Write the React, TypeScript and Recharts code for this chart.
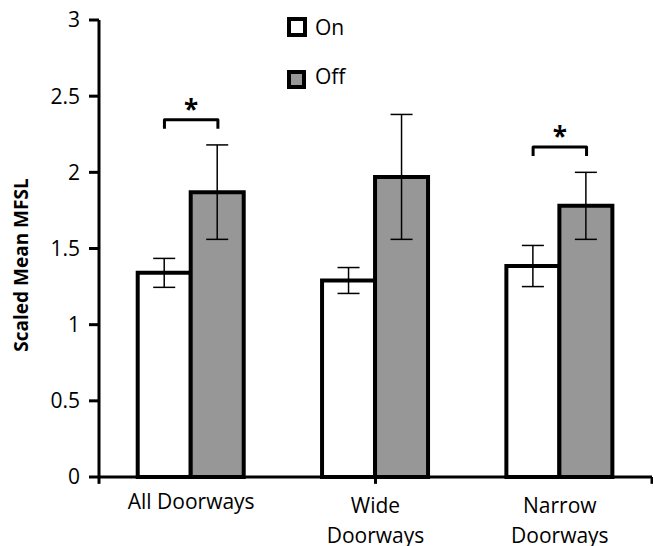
import { Bar, BarChart, ErrorBar, ReferenceDot, ReferenceLine, XAxis, YAxis } from "recharts";

const categories = ["All Doorways", "Wide Doorways", "Narrow Doorways"];
const onValues = [1.34, 1.29, 1.385];
const onErrors = [0.095, 0.085, 0.135];
const offValues = [1.87, 1.97, 1.78];
const offErrors = [0.31, 0.41, 0.22];
const yTicks = [0, 0.5, 1, 1.5, 2, 2.5, 3];
const boundaryTicks = [0, 1, 2, 3];
const brackets = [
  { category: "All Doorways", level: 2.345 },
  { category: "Narrow Doorways", level: 2.166 },
];

const data = categories.map((name, i) => ({
  name,
  on: onValues[i],
  onErr: onErrors[i],
  off: offValues[i],
  offErr: offErrors[i],
}));

const font = "'Open Sans', sans-serif";
const W = 653;
const H = 546;
const left = 99;
const gap = 0.21;
// half the distance between the two bar centres in a group
const halfSpan = ((W - left - 1) / categories.length) * (1 - 2 * gap) / 4;

const Bracket = (props: any) => {
  const { cx, cy } = props;
  if (cx == null || cy == null) return null;
  return (
    <g>
      <path
        d={`M${cx - halfSpan},${cy + 9} L${cx - halfSpan},${cy} L${cx + halfSpan},${cy} L${cx + halfSpan},${cy + 9}`}
        fill="none"
        stroke="#000"
        strokeWidth={3}
        strokeLinejoin="round"
      />
      <text
        x={cx}
        y={cy - 17}
        textAnchor="middle"
        dominantBaseline="central"
        fontFamily={font}
        fontWeight="bold"
        fontSize={26}
        dy={6}
      >
        *
      </text>
    </g>
  );
};

const XTick = (props: any) => {
  const { x, y, payload } = props;
  const single = payload.value === "All Doorways";
  const words: string[] = single ? ["All Doorways"] : payload.value.split(" ");
  return (
    <text x={x} y={y + (single ? 23 : 27)} textAnchor="middle" fontFamily={font} fontSize={21} fill="#000">
      {words.map((w, i) => (
        <tspan key={w} x={x} dy={i === 0 ? 0 : 30}>
          {w}
        </tspan>
      ))}
    </text>
  );
};

export default function App() {
  return (
    <div style={{ position: "absolute", left: 0, top: 0, width: W, height: H, background: "#fff" }}>
      <BarChart
        width={W}
        height={H}
        data={data}
        margin={{ top: 20, right: 1, bottom: 0, left: 0 }}
        barCategoryGap={`${gap * 100}%`}
        barGap={0}
      >
        <XAxis xAxisId="edges" type="number" domain={[0, 3]} hide />
        <XAxis
          dataKey="name"
          height={69}
          axisLine={false}
          tickLine={false}
          tickSize={7}
          interval={0}
          tick={<XTick />}
        />
        <YAxis
          width={left}
          domain={[0, 3]}
          ticks={yTicks}
          interval={0}
          axisLine={false}
          tickLine={{ stroke: "#000", strokeWidth: 3 }}
          tickSize={10}
          tickMargin={9}
          tick={{ fill: "#000", fontSize: 21, fontFamily: font }}
        />
        <Bar dataKey="on" fill="#fff" stroke="#000" strokeWidth={4} isAnimationActive={false}>
          <ErrorBar dataKey="onErr" width={11} stroke="#000" strokeWidth={1.5} />
        </Bar>
        <Bar dataKey="off" fill="#979797" stroke="#000" strokeWidth={4} isAnimationActive={false}>
          <ErrorBar dataKey="offErr" width={11} stroke="#000" strokeWidth={1.5} />
        </Bar>
        <ReferenceLine y={0} stroke="#000" strokeWidth={3} />
        <ReferenceLine xAxisId="edges" x={0} stroke="#000" strokeWidth={3} />
        {boundaryTicks.map((t) => (
          <ReferenceLine
            key={t}
            xAxisId="edges"
            segment={[
              { x: t, y: 0 },
              { x: t, y: -0.045 },
            ]}
            ifOverflow="visible"
            stroke="#000"
            strokeWidth={3}
          />
        ))}
        {brackets.map((b) => (
          <ReferenceDot key={b.category} x={b.category} y={b.level} shape={<Bracket />} />
        ))}
      </BarChart>
      <svg style={{ position: "absolute", left: 0, top: 0 }} width={W} height={H} pointerEvents="none">
        <text
          transform="translate(21,265) rotate(-90)"
          textAnchor="middle"
          dominantBaseline="central"
          fontFamily={font}
          fontWeight="bold"
          fontSize={19}
        >
          Scaled Mean MFSL
        </text>
        <rect x={289} y={19} width={16} height={16} fill="#fff" stroke="#000" strokeWidth={4} />
        <text x={315} y={35} fontFamily={font} fontSize={21}>On</text>
        <rect x={289} y={72} width={15} height={15} fill="#979797" stroke="#000" strokeWidth={4} />
        <text x={315} y={84} fontFamily={font} fontSize={21}>Off</text>
      </svg>
    </div>
  );
}
